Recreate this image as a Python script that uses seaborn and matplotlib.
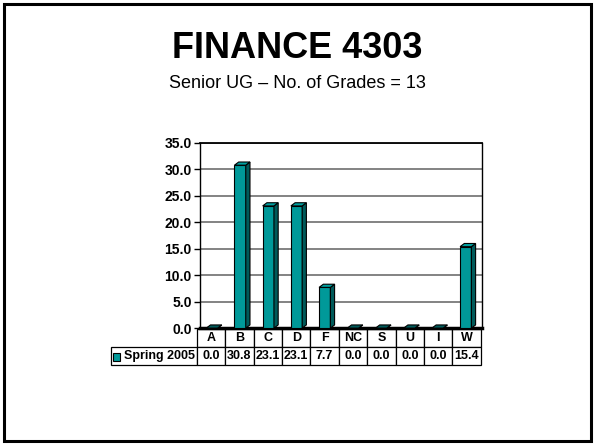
import numpy as np
import pandas as pd
import matplotlib
matplotlib.use("Agg")
import matplotlib.pyplot as plt
from matplotlib.patches import Polygon, Rectangle
from matplotlib.table import Table
from matplotlib.ticker import FormatStrFormatter
import seaborn as sns

# --- data -------------------------------------------------------------------
grades = ["A", "B", "C", "D", "F", "NC", "S", "U", "I", "W"]
spring_2005 = [0.0, 30.8, 23.1, 23.1, 7.7, 0.0, 0.0, 0.0, 0.0, 15.4]
series_name = "Spring 2005"
title = "FINANCE 4303"
subtitle = "Senior UG \u2013 No. of Grades = 13"

FACE = "#009999"
SIDE = "#005a5a"
TOP = "#00a0a0"

sns.set_style("white")
plt.rcParams["font.family"] = ["Liberation Sans", "DejaVu Sans"]
plt.rcParams["text.color"] = "black"
plt.rcParams["xtick.color"] = "black"
plt.rcParams["ytick.color"] = "black"
plt.rcParams["axes.labelcolor"] = "black"

df = pd.DataFrame({"grade": grades, "pct": spring_2005})

fig = plt.figure(figsize=(5.95, 4.44), dpi=100)
ax = fig.add_axes([0.336, 0.261, 0.474, 0.417])

sns.barplot(data=df, x="grade", y="pct", color=FACE, width=0.4,
            saturation=1, edgecolor="black", linewidth=0.8, ax=ax, zorder=3)

# fake 3D: side and top faces for every bar
dx, dy = 0.15, 0.6
for bar in list(ax.patches):
    bar.set_x(bar.get_x() - dx / 2)
    x0, w, h = bar.get_x(), bar.get_width(), bar.get_height()
    side = Polygon([(x0 + w, 0), (x0 + w + dx, dy), (x0 + w + dx, h + dy), (x0 + w, h)],
                   closed=True, facecolor=SIDE, edgecolor="black", linewidth=0.8, zorder=3)
    top = Polygon([(x0, h), (x0 + dx, h + dy), (x0 + w + dx, h + dy), (x0 + w, h)],
                  closed=True, facecolor=TOP if h > 0 else SIDE, edgecolor="black",
                  linewidth=0.8, zorder=3)
    ax.add_patch(side)
    ax.add_patch(top)

ax.set_xlim(-0.5, len(grades) - 0.5)
ax.set_ylim(0, 35)
ax.set_yticks(np.arange(0, 36, 5))
ax.yaxis.set_major_formatter(FormatStrFormatter("%.1f"))
ax.set_xticks([])
ax.set_xlabel("")
ax.set_ylabel("")
ax.yaxis.grid(True, color="#7a7a7a", linewidth=1.3)
ax.set_axisbelow(True)
ax.tick_params(axis="y", which="major", left=True, length=4, width=1,
               color="black", labelcolor="black", labelsize=10, pad=2)
for lab in ax.get_yticklabels():
    lab.set_fontweight("bold")
for name, sp in ax.spines.items():
    sp.set_visible(True)
    sp.set_color("black")
    sp.set_linewidth(1)
ax.spines["bottom"].set_linewidth(2.5)
ax.spines["top"].set_linewidth(1.3)

# data table under the chart
tbl = Table(ax, bbox=[-0.316, -0.2, 1.312, 0.195])
lab_w, col_w = 86.0, 28.4
for j, g in enumerate(grades):
    tbl.add_cell(0, j + 1, col_w, 1, text=g, loc="center")
    tbl.add_cell(1, j + 1, col_w, 1, text=f"{spring_2005[j]:.1f}", loc="center")
lab_cell = tbl.add_cell(1, 0, lab_w, 1, text=series_name, loc="left")
lab_cell.PAD = 0.15
tbl.auto_set_font_size(False)
tbl.set_fontsize(9)
for cell in tbl.get_celld().values():
    cell.set_linewidth(0.9)
    cell.get_text().set_fontweight("bold")
    cell.get_text().set_color("black")
ax.add_table(tbl)

# legend key square
ax.add_patch(Rectangle((-0.309, -0.178), 0.027, 0.043, transform=ax.transAxes,
                       facecolor=FACE, edgecolor="black", linewidth=0.8,
                       clip_on=False))

fig.text(0.5, 0.891, title, ha="center", va="center", fontsize=26,
         fontweight="bold", color="black")
fig.text(0.5, 0.813, subtitle, ha="center", va="center", fontsize=13, color="black")

fig.patches.append(Rectangle((0.006, 0.007), 0.988, 0.985, transform=fig.transFigure,
                             fill=False, edgecolor="black", linewidth=2.2))

fig.savefig("out.png", dpi=100)
